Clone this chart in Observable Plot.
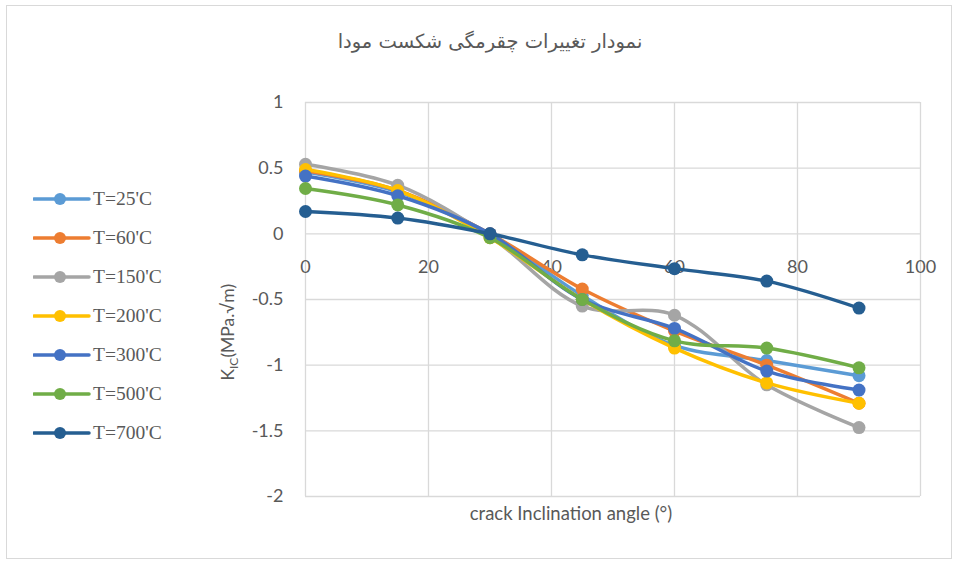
<!DOCTYPE html>
<html><head><meta charset="utf-8">
<script src="https://cdn.jsdelivr.net/npm/d3@7"></script>
<script src="https://cdn.jsdelivr.net/npm/@observablehq/plot@0.6"></script>
<style>
body{margin:0;background:#fff}
#wrap{position:relative;width:958px;height:561px;overflow:hidden}
#frame{position:absolute;left:6px;top:5px;width:946px;height:554px;border:1px solid #d9d9d9;box-sizing:border-box;pointer-events:none}
#title{position:absolute;left:0;width:980px;top:30px;text-align:center;font-family:"DejaVu Sans",sans-serif;font-size:19.5px;color:#595959;direction:rtl}
#xlabel{position:absolute;left:371px;width:400px;top:502px;text-align:center;font-family:Lato,"Open Sans",sans-serif;font-size:18.5px;color:#595959}
#ylabel{position:absolute;left:129px;width:200px;top:320px;text-align:center;font-family:Lato,"Open Sans",sans-serif;font-size:17.5px;color:#595959;transform:rotate(-90deg);transform-origin:center center;white-space:nowrap}
#legend{position:absolute;left:33px;top:179px;font-family:"Liberation Serif","Times New Roman",serif;font-size:19.5px;color:#595959}
.item{display:flex;align-items:center;height:39px;margin-top:0}
.item svg{margin-right:2px}
#plot{position:absolute;left:0;top:0}
</style></head>
<body>
<div id="wrap">
  <div id="plot"></div>
  <div id="frame"></div>
  <div id="title"></div>
  <div id="xlabel"></div>
  <div id="ylabel"></div>
  <div id="legend"></div>
</div>
<script>
const titleText = "نمودار تغییرات چقرمگی شکست مودا";
const xLabel = "crack Inclination angle (°)";
const angles = [0, 15, 30, 45, 60, 75, 90];
const seriesNames = ["T=25'C", "T=60'C", "T=150'C", "T=200'C", "T=300'C", "T=500'C", "T=700'C"];
const seriesColors = ["#5B9BD5", "#ED7D31", "#A5A5A5", "#FFC000", "#4472C4", "#70AD47", "#255E91"];
const k25  = [0.47, 0.32, 0.00, -0.47, -0.85, -0.965, -1.08];
const k60  = [0.48, 0.33, 0.00, -0.42, -0.74, -1.00, -1.29];
const k150 = [0.53, 0.37, -0.02, -0.55, -0.62, -1.15, -1.475];
const k200 = [0.49, 0.33, -0.03, -0.50, -0.87, -1.135, -1.29];
const k300 = [0.44, 0.29, 0.00, -0.50, -0.72, -1.045, -1.19];
const k500 = [0.345, 0.22, -0.03, -0.50, -0.815, -0.87, -1.02];
const k700 = [0.17, 0.12, 0.00, -0.16, -0.265, -0.36, -0.565];
const seriesValues = [k25, k60, k150, k200, k300, k500, k700];
const xTicks = [0, 20, 40, 60, 80, 100];
const yTicks = [-2, -1.5, -1, -0.5, 0, 0.5, 1];

const rows = [];
seriesNames.forEach((s, i) => angles.forEach((a, j) => rows.push({series: s, angle: a, k: seriesValues[i][j]})));

const seriesMarks = seriesNames.flatMap(s => {
  const d = rows.filter(r => r.series === s);
  return [
    Plot.line(d, {x: "angle", y: "k", stroke: "series", strokeWidth: 3.5, curve: "catmull-rom"}),
    Plot.dot(d, {x: "angle", y: "k", fill: "series", r: 6.5})
  ];
});

const chart = Plot.plot({
  width: 958, height: 561,
  marginLeft: 305, marginRight: 38, marginTop: 102, marginBottom: 65,
  style: {background: "transparent", fontFamily: "Lato, 'Open Sans', sans-serif"},
  x: {domain: [0, 100], axis: null},
  y: {domain: [-2, 1], axis: null},
  color: {domain: seriesNames, range: seriesColors},
  marks: [
    Plot.gridX(xTicks, {stroke: "#d9d9d9", strokeOpacity: 1, strokeWidth: 1.3}),
    Plot.gridY(yTicks, {stroke: "#d9d9d9", strokeOpacity: 1, strokeWidth: 1.3}),
    Plot.axisY(yTicks, {tickSize: 0, tickPadding: 22, tickFormat: d => String(d), fontSize: 18, fill: "#595959", label: null}),
    Plot.text(xTicks, {x: d => d, y: 0, dy: 33, text: d => String(d), fontSize: 18, fill: "#595959"}),
    ...seriesMarks
  ]
});
document.getElementById("plot").appendChild(chart);

document.getElementById("title").textContent = titleText;
document.getElementById("xlabel").textContent = xLabel;
document.getElementById("ylabel").innerHTML = "K<sub style='font-size:12px'>IC</sub>(MPa.√m)";

const legend = document.getElementById("legend");
seriesNames.forEach((s, i) => {
  const div = document.createElement("div");
  div.className = "item";
  div.innerHTML = `<svg width="58" height="14"><line x1="1" y1="7" x2="56" y2="7" stroke="${seriesColors[i]}" stroke-width="3.5" stroke-linecap="round"/><circle cx="27" cy="7" r="6" fill="${seriesColors[i]}"/></svg><span>${s}</span>`;
  legend.appendChild(div);
});
</script>
</body></html>
